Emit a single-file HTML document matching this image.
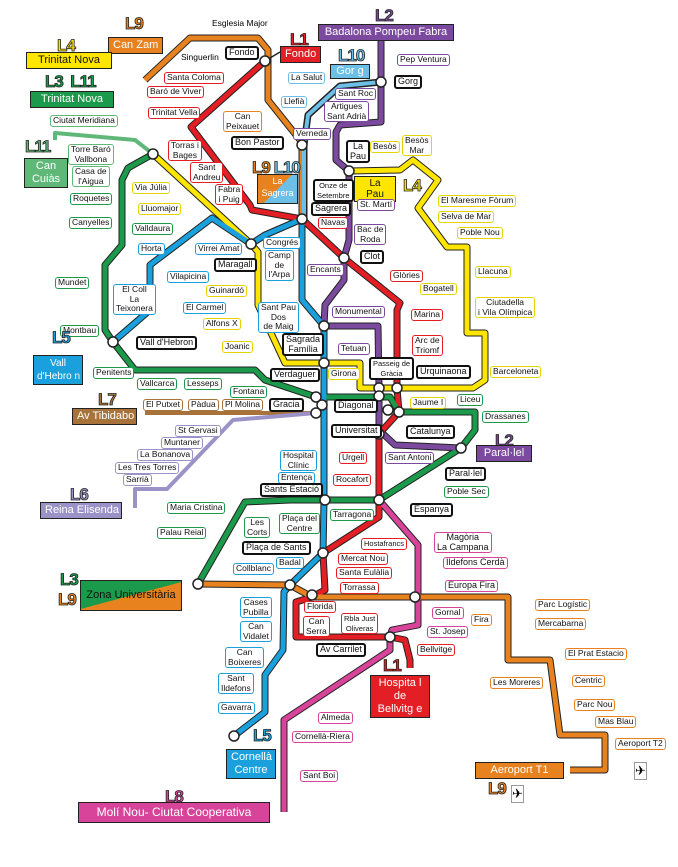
<!DOCTYPE html>
<html><head><meta charset="utf-8"><style>
body{margin:0;width:678px;height:867px;background:#fff;position:relative;overflow:hidden;font-family:"Liberation Sans",sans-serif}
svg{position:absolute;left:0;top:0}
.b{position:absolute;background:#fff;border:1.5px solid #000;border-radius:3px;font-size:8.5px;line-height:9.5px;padding:0 2px;white-space:nowrap;text-align:center;color:#111}
.k{border-color:#111;border-width:2px;font-size:9px}
.r{border-color:#e31e24}.g{border-color:#1a9a4a}.y{border-color:#e6d400}.bl{border-color:#1aa0dc}.p{border-color:#7b4a9e}.o{border-color:#e8821e}.lb{border-color:#6cc0e8}.li{border-color:#9b93c8}.br{border-color:#a8733a}.pk{border-color:#d8449a}.g2{border-color:#5fb878}
.f{position:absolute;color:#fff;font-size:11px;padding:1px 4px;border:1.5px solid #222;white-space:nowrap;text-align:center;line-height:13px}
.n{position:absolute;font-weight:bold;font-size:17px;font-family:"Liberation Sans Narrow","Liberation Sans",sans-serif;-webkit-text-stroke:0.8px #222;letter-spacing:-1px}
.t{position:absolute;font-size:8.5px;white-space:nowrap}
</style></head><body>
<svg width="678" height="867" fill="none" stroke-linejoin="round">
<g stroke="#222" stroke-width="7">
<polyline points="145,80 190,38 258,38 268,50 268,100 300,140 302,145 302,219"/>
<polyline points="381,82 340,86 308,115 304,145 304,219"/>
<polyline points="265,61 191,127 250,205 252,210 302,219 344,258 400,303 397,310 397,388 399,412 379,434 379,517 323,553 325,590 312,597 296,602 296,637 390,637 405,640 410,660 410,668"/>
<polyline points="153,154 128,168 122,180 122,245 105,265 105,330 113,342 135,370 255,370 265,380 316,397 390,397 399,412 475,412 475,430 461,448 379,500 325,500 290,500 245,502 198,584"/>
<polyline points="153,154 251,244 258,252 258,305 285,363 324,363 360,363 360,388 397,388 473,388 485,380 485,333 467,333 467,247 447,247 418,208 438,180 413,160 400,170 349,171"/>
<polyline points="113,342 150,310 150,265 212,218 251,244 265,235 302,219 302,300 324,326 324,500 323,553 290,585 284,592 283,650 265,675 265,712 234,736"/>
<polyline points="381,40 381,122 340,125 336,132 336,160 349,171 349,240 344,258 344,280 325,305 324,326 378,326 379,388 379,430 395,445 461,448"/>
<polyline points="198,584 290,585 312,597 415,597 508,597 508,660 550,660 560,735 605,735 605,770 570,770"/>
<polyline points="379,500 418,545 418,625 392,630 390,637 390,650 284,720 284,812"/>
</g>
<polyline points="145,80 190,38 258,38 268,50 268,100 300,140 302,145 302,219" stroke="#e8821e" stroke-width="5"/>
<polyline points="381,82 340,86 308,115 304,145 304,219" stroke="#6cc0e8" stroke-width="4"/>
<polyline points="265,61 191,127 250,205 252,210 302,219 344,258 400,303 397,310 397,388 399,412 379,434 379,517 323,553 325,590 312,597 296,602 296,637 390,637 405,640 410,660 410,668" stroke="#e31e24" stroke-width="5"/>
<line x1="265" y1="61" x2="280" y2="52" stroke="#222" stroke-width="1.5"/>
<polyline points="153,154 128,168 122,180 122,245 105,265 105,330 113,342 135,370 255,370 265,380 316,397 390,397 399,412 475,412 475,430 461,448 379,500 325,500 290,500 245,502 198,584" stroke="#1a9a4a" stroke-width="5"/>
<polyline points="153,154 135,140 55,133 55,140" stroke="#5fb878" stroke-width="4"/>
<polyline points="153,154 251,244 258,252 258,305 285,363 324,363 360,363 360,388 397,388 473,388 485,380 485,333 467,333 467,247 447,247 418,208 438,180 413,160 400,170 349,171" stroke="#ffe600" stroke-width="5"/>
<polyline points="113,342 150,310 150,265 212,218 251,244 265,235 302,219 302,300 324,326 324,500 323,553 290,585 284,592 283,650 265,675 265,712 234,736" stroke="#1aa0dc" stroke-width="5"/>
<polyline points="381,40 381,122 340,125 336,132 336,160 349,171 349,240 344,258 344,280 325,305 324,326 378,326 379,388 379,430 395,445 461,448" stroke="#7b4a9e" stroke-width="5"/>
<polyline points="145,413 316,413" stroke="#a8733a" stroke-width="4"/>
<polyline points="316,413 233,420 167,489 135,489 135,508" stroke="#9b93c8" stroke-width="4"/>
<polyline points="198,584 290,585 312,597 415,597 508,597 508,660 550,660 560,735 605,735 605,770 570,770" stroke="#e8821e" stroke-width="5"/>
<polyline points="379,500 418,545 418,625 392,630 390,637 390,650 284,720 284,812" stroke="#d8449a" stroke-width="5"/>
<g fill="#fff" stroke="#222" stroke-width="1.5">
<circle cx="265" cy="61" r="5"/><circle cx="153" cy="154" r="5"/><circle cx="113" cy="342" r="5"/><circle cx="251" cy="244" r="5"/><circle cx="302" cy="219" r="5"/><circle cx="302" cy="145" r="5"/><circle cx="381" cy="82" r="5"/><circle cx="349" cy="171" r="5"/><circle cx="344" cy="258" r="5"/><circle cx="324" cy="326" r="5"/><circle cx="324" cy="363" r="5"/><circle cx="379" cy="388" r="5"/><circle cx="379" cy="396" r="5"/><circle cx="397" cy="388" r="5"/><circle cx="316" cy="397" r="5"/><circle cx="322" cy="405" r="5"/><circle cx="316" cy="413" r="5"/><circle cx="388" cy="410" r="5"/><circle cx="399" cy="412" r="5"/><circle cx="379" cy="434" r="5"/><circle cx="461" cy="448" r="5"/><circle cx="379" cy="500" r="5"/><circle cx="325" cy="500" r="5"/><circle cx="323" cy="553" r="5"/><circle cx="290" cy="585" r="5"/><circle cx="312" cy="595" r="5"/><circle cx="198" cy="584" r="5"/><circle cx="415" cy="597" r="5"/><circle cx="390" cy="637" r="5"/><circle cx="234" cy="736" r="5"/>
</g>
</svg>

<div class="n" style="left:125px;top:14px;color:#e8821e">L9</div>
<div class="f" style="left:108px;top:37px;background:#e8821e">Can Zam</div>
<div class="t" style="left:212px;top:18px">Esglesia Major</div>
<div class="n" style="left:57px;top:36px;color:#ffe600">L4</div>
<div class="f" style="left:26px;top:52px;background:#ffe600;color:#111;width:76px">Trinitat Nova</div>
<div class="n" style="left:45px;top:72px;color:#1a9a4a">L3 &nbsp;L11</div>
<div class="f" style="left:30px;top:91px;background:#1a9a4a;width:74px">Trinitat Nova</div>
<div class="b g2" style="left:50px;top:115px">Ciutat Meridiana</div>
<div class="n" style="left:25px;top:137px;color:#5fb878">L11</div>
<div class="f" style="left:24px;top:158px;background:#5fb878;width:34px">Can<br>Cuiàs</div>
<div class="b g2" style="left:68px;top:144px">Torre Baró<br>Vallbona</div>
<div class="b g2" style="left:72px;top:166px">Casa de<br>l'Aigua</div>
<div class="b g" style="left:70px;top:193px">Roquetes</div>
<div class="b g" style="left:69px;top:217px">Canyelles</div>
<div class="b g" style="left:132px;top:223px">Valldaura</div>
<div class="b g" style="left:55px;top:277px">Mundet</div>
<div class="b g" style="left:60px;top:325px">Montbau</div>
<div class="b g" style="left:93px;top:367px">Penitents</div>
<div class="b g" style="left:137px;top:378px">Vallcarca</div>
<div class="b g" style="left:184px;top:378px">Lesseps</div>
<div class="b g" style="left:230px;top:386px">Fontana</div>
<div class="t" style="left:181px;top:52px">Singuerlin</div>
<div class="b k" style="left:225px;top:46px">Fondo</div>
<div class="n" style="left:290px;top:30px;color:#e31e24">L1</div>
<div class="f" style="left:280px;top:46px;background:#e31e24">Fondo</div>
<div class="b r" style="left:164px;top:72px">Santa Coloma</div>
<div class="b r" style="left:147px;top:86px">Baró de Viver</div>
<div class="b r" style="left:148px;top:107px">Trinitat Vella</div>
<div class="b o" style="left:223px;top:111px">Can<br>Peixauet</div>
<div class="b k" style="left:231px;top:136px">Bon Pastor</div>
<div class="b r" style="left:168px;top:140px">Torras i<br>Bages</div>
<div class="b r" style="left:190px;top:162px">Sant<br>Andreu</div>
<div class="b r" style="left:215px;top:184px">Fabra<br>i Puig</div>
<div class="n" style="left:252px;top:158px;color:#e8821e">L9 <span style="color:#6cc0e8">L10</span></div>
<div style="position:absolute;left:257px;top:174px;width:39px;height:28px;background:linear-gradient(135deg,#e8821e 50%,#6cc0e8 50%);color:#fff;font-size:9px;text-align:center;line-height:12px;border:1px solid #222">La<br>Sagrera</div>
<div class="b y" style="left:132px;top:182px">Via Júlia</div>
<div class="b y" style="left:138px;top:203px">Lluomajor</div>
<div class="b bl" style="left:138px;top:243px">Horta</div>
<div class="b bl" style="left:195px;top:243px">Virrei Amat</div>
<div class="b k" style="left:214px;top:258px">Maragall</div>
<div class="b bl" style="left:167px;top:271px">Vilapicina</div>
<div class="b y" style="left:206px;top:285px">Guinardó</div>
<div class="b bl" style="left:113px;top:284px">El Coll<br>La<br>Teixonera</div>
<div class="b bl" style="left:183px;top:302px">El Carmel</div>
<div class="b y" style="left:203px;top:318px">Alfons X</div>
<div class="b y" style="left:222px;top:341px">Joanic</div>
<div class="b k" style="left:136px;top:336px">Vall d'Hebron</div>
<div class="n" style="left:52px;top:328px;color:#1aa0dc">L5</div>
<div class="f" style="left:33px;top:355px;background:#1aa0dc;width:42px;font-size:10px;padding:1px 3px">Vall<br>d'Hebro n</div>
<div class="b lb" style="left:288px;top:72px">La Salut</div>
<div class="b lb" style="left:281px;top:96px">Llefià</div>
<div class="b p" style="left:293px;top:128px">Verneda</div>
<div class="b bl" style="left:263px;top:237px">Congrés</div>
<div class="b bl" style="left:265px;top:250px">Camp<br>de<br>l'Arpa</div>
<div class="b bl" style="left:258px;top:302px">Sant Pau<br>Dos<br>de Maig</div>
<div class="b k" style="left:282px;top:333px">Sagrada<br>Família</div>
<div class="b k" style="left:270px;top:368px">Verdaguer</div>
<div class="b y" style="left:328px;top:368px">Girona</div>
<div class="b k" style="left:313px;top:179px;font-size:7.5px">Onze de<br>Setembre</div>
<div class="b k" style="left:311px;top:202px">Sagrera</div>
<div class="b r" style="left:318px;top:217px">Navas</div>
<div class="b p" style="left:307px;top:264px">Encants</div>
<div class="n" style="left:375px;top:6px;color:#7b4a9e">L2</div>
<div class="f" style="left:318px;top:24px;background:#7b4a9e;width:126px">Badalona Pompeu Fabra</div>
<div class="n" style="left:338px;top:46px;color:#6cc0e8">L10</div>
<div class="f" style="left:330px;top:64px;background:#6cc0e8;width:32px;padding:0 3px">Gor g</div>
<div class="b p" style="left:397px;top:54px">Pep Ventura</div>
<div class="b k" style="left:394px;top:75px">Gorg</div>
<div class="b p" style="left:335px;top:88px">Sant Roc</div>
<div class="b p" style="left:324px;top:101px">Artigues<br>Sant Adrià</div>
<div class="b k" style="left:346px;top:140px">La<br>Pau</div>
<div class="b y" style="left:370px;top:141px">Besòs</div>
<div class="b y" style="left:402px;top:135px">Besòs<br>Mar</div>
<div class="f" style="left:354px;top:176px;background:#ffe600;color:#111;width:32px;line-height:11px;font-size:10px">La<br>Pau</div>
<div class="n" style="left:403px;top:176px;color:#ffe600">L4</div>
<div class="b p" style="left:357px;top:199px">St. Martí</div>
<div class="b p" style="left:354px;top:224px">Bac de<br>Roda</div>
<div class="b k" style="left:360px;top:250px">Clot</div>
<div class="b r" style="left:390px;top:270px">Glòries</div>
<div class="b y" style="left:438px;top:195px">El Maresme Fòrum</div>
<div class="b y" style="left:438px;top:211px">Selva de Mar</div>
<div class="b y" style="left:457px;top:227px">Poble Nou</div>
<div class="b y" style="left:475px;top:266px">Llacuna</div>
<div class="b y" style="left:420px;top:283px">Bogatell</div>
<div class="b y" style="left:475px;top:297px">Ciutadella<br>i Vila Olímpica</div>
<div class="b p" style="left:332px;top:306px">Monumental</div>
<div class="b r" style="left:411px;top:309px">Marina</div>
<div class="b p" style="left:338px;top:343px">Tetuan</div>
<div class="b r" style="left:412px;top:335px">Arc de<br>Triomf</div>
<div class="b k" style="left:369px;top:357px;font-size:7.5px">Passeig de<br>Gràcia</div>
<div class="b k" style="left:416px;top:365px">Urquinaona</div>
<div class="b y" style="left:490px;top:366px">Barceloneta</div>
<div class="b y" style="left:410px;top:397px">Jaume I</div>
<div class="b g" style="left:457px;top:394px">Liceu</div>
<div class="b g" style="left:482px;top:411px">Drassanes</div>
<div class="b k" style="left:334px;top:399px">Diagonal</div>
<div class="b k" style="left:269px;top:398px">Gracia</div>
<div class="b br" style="left:143px;top:399px">El Putxet</div>
<div class="b br" style="left:188px;top:399px">Pàdua</div>
<div class="b br" style="left:222px;top:399px">Pl Molina</div>
<div class="n" style="left:98px;top:390px;color:#a8733a">L7</div>
<div class="f" style="left:72px;top:408px;background:#a8733a;width:55px">Av Tibidabo</div>
<div class="b li" style="left:175px;top:425px">St Gervasi</div>
<div class="b li" style="left:161px;top:437px">Muntaner</div>
<div class="b li" style="left:137px;top:449px">La Bonanova</div>
<div class="b li" style="left:115px;top:462px">Les Tres Torres</div>
<div class="b li" style="left:123px;top:474px">Sarrià</div>
<div class="n" style="left:70px;top:485px;color:#9b93c8">L6</div>
<div class="f" style="left:40px;top:502px;background:#9b93c8;width:72px">Reina Elisenda</div>
<div class="b k" style="left:331px;top:424px">Universitat</div>
<div class="b k" style="left:406px;top:425px">Catalunya</div>
<div class="n" style="left:495px;top:431px;color:#7b4a9e">L2</div>
<div class="f" style="left:476px;top:445px;background:#7b4a9e;width:46px">Paral·lel</div>
<div class="b k" style="left:445px;top:467px">Paral·lel</div>
<div class="b r" style="left:339px;top:452px">Urgell</div>
<div class="b p" style="left:385px;top:452px">Sant Antoni</div>
<div class="b bl" style="left:280px;top:450px">Hospital<br>Clínic</div>
<div class="b bl" style="left:278px;top:472px">Entença</div>
<div class="b r" style="left:333px;top:474px">Rocafort</div>
<div class="b g" style="left:444px;top:486px">Poble Sec</div>
<div class="b k" style="left:260px;top:483px">Sants Estació</div>
<div class="b k" style="left:410px;top:503px">Espanya</div>
<div class="b g" style="left:167px;top:502px">Maria Cristina</div>
<div class="b g" style="left:244px;top:517px">Les<br>Corts</div>
<div class="b g" style="left:279px;top:513px">Plaça del<br>Centre</div>
<div class="b g" style="left:330px;top:509px">Tarragona</div>
<div class="b g" style="left:157px;top:527px">Palau Reial</div>
<div class="b k" style="left:242px;top:541px">Plaça de Sants</div>
<div class="b r" style="left:361px;top:538px;font-size:7.5px">Hostafrancs</div>
<div class="b pk" style="left:434px;top:532px;font-size:9px">Magòria<br>La Campana</div>
<div class="b r" style="left:338px;top:553px">Mercat Nou</div>
<div class="b r" style="left:336px;top:567px">Santa Eulàlia</div>
<div class="b pk" style="left:443px;top:557px;font-size:9px">Ildefons Cerdà</div>
<div class="b bl" style="left:276px;top:557px">Badal</div>
<div class="b bl" style="left:233px;top:563px">Collblanc</div>
<div class="b r" style="left:340px;top:582px">Torrassa</div>
<div class="b pk" style="left:445px;top:580px;font-size:9px">Europa Fira</div>
<div class="n" style="left:60px;top:570px;color:#1a9a4a">L3</div>
<div class="n" style="left:58px;top:590px;color:#e8821e">L9</div>
<div style="position:absolute;left:80px;top:580px;width:100px;height:29px;background:linear-gradient(165deg,#1a9a4a 50%,#e8821e 50%);border:1.5px solid #222;font-size:11px;line-height:29px;text-align:center;color:#111">Zona Universitària</div>
<div class="b bl" style="left:240px;top:597px">Cases<br>Pubilla</div>
<div class="b r" style="left:304px;top:601px">Florida</div>
<div class="b r" style="left:303px;top:616px">Can<br>Serra</div>
<div class="b r" style="left:341px;top:613px;font-size:7.5px">Rbla Just<br>Oliveras</div>
<div class="b pk" style="left:432px;top:607px">Gornal</div>
<div class="b o" style="left:471px;top:614px">Fira</div>
<div class="b o" style="left:535px;top:599px">Parc Logístic</div>
<div class="b o" style="left:535px;top:618px">Mercabarna</div>
<div class="b bl" style="left:240px;top:621px">Can<br>Vidalet</div>
<div class="b pk" style="left:427px;top:626px">St. Josep</div>
<div class="b k" style="left:316px;top:643px">Av Carrilet</div>
<div class="b r" style="left:417px;top:644px">Bellvitge</div>
<div class="n" style="left:383px;top:656px;color:#e31e24">L1</div>
<div class="f" style="left:370px;top:675px;background:#e31e24;width:50px">Hospita l<br>de<br>Bellvitg e</div>
<div class="b bl" style="left:225px;top:647px">Can<br>Boixeres</div>
<div class="b o" style="left:565px;top:648px">El Prat Estacio</div>
<div class="b o" style="left:490px;top:677px">Les Moreres</div>
<div class="b o" style="left:572px;top:675px">Centric</div>
<div class="b bl" style="left:218px;top:673px">Sant<br>Ildefons</div>
<div class="b o" style="left:574px;top:699px">Parc Nou</div>
<div class="b o" style="left:595px;top:716px">Mas Blau</div>
<div class="b pk" style="left:318px;top:712px">Almeda</div>
<div class="b bl" style="left:218px;top:702px">Gavarra</div>
<div class="n" style="left:253px;top:726px;color:#1aa0dc">L5</div>
<div class="f" style="left:226px;top:749px;background:#1aa0dc;width:40px">Cornellà<br>Centre</div>
<div class="b pk" style="left:292px;top:731px">Cornellà-Riera</div>
<div class="b o" style="left:615px;top:738px">Aeroport T2</div>
<div class="f" style="left:475px;top:762px;background:#e8821e;width:79px">Aeroport T1</div>
<div class="n" style="left:488px;top:779px;color:#e8821e">L9</div>
<div class="t" style="left:634px;top:762px;font-size:13px;border:1px solid #999">✈</div>
<div class="t" style="left:511px;top:785px;font-size:13px;border:1px solid #999">✈</div>
<div class="b pk" style="left:300px;top:770px">Sant Boi</div>
<div class="n" style="left:165px;top:787px;color:#d8449a">L8</div>
<div class="f" style="left:78px;top:802px;background:#d8449a;width:182px;font-size:12px;line-height:17px">Molí Nou- Ciutat Cooperativa</div>
</body></html>
